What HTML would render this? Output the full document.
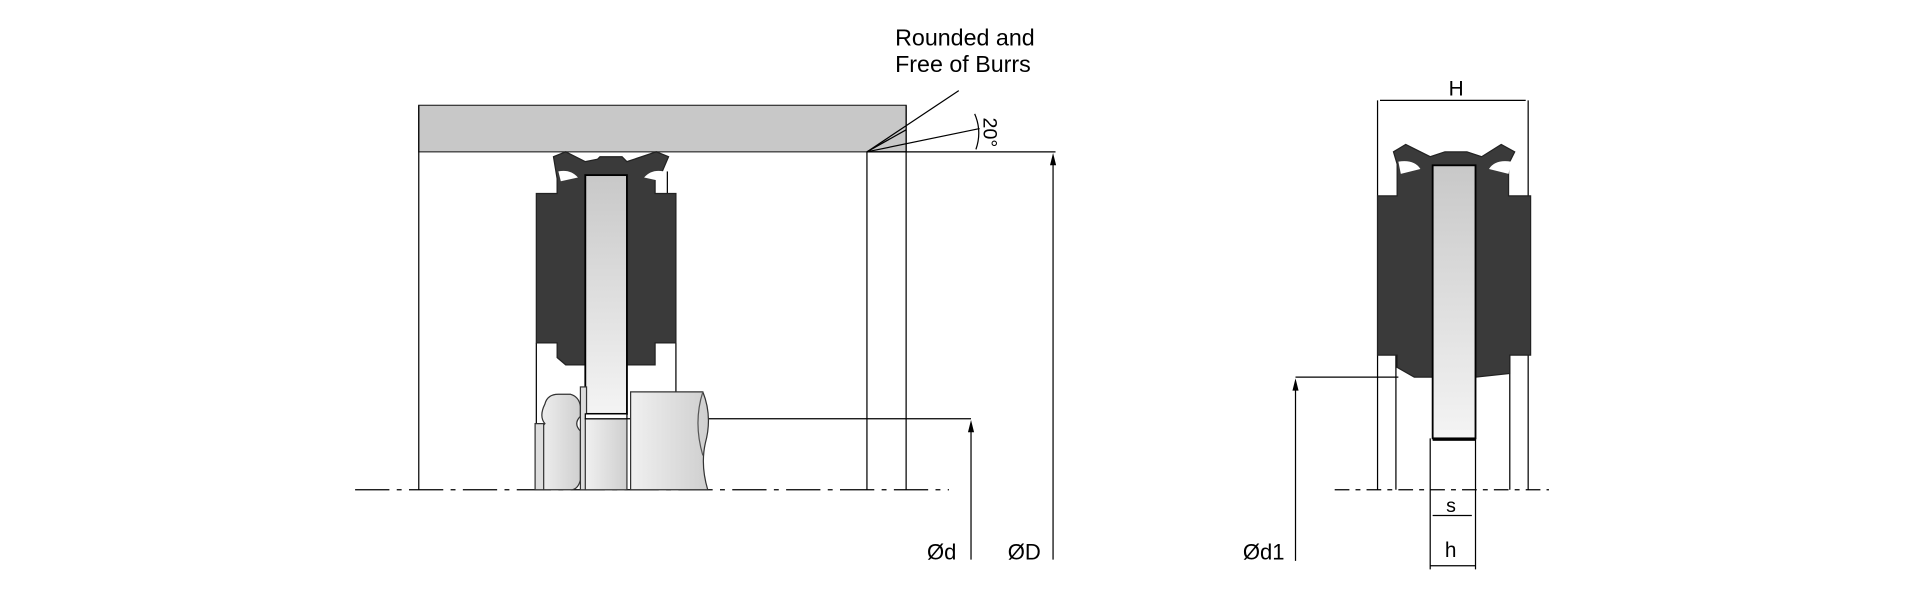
<!DOCTYPE html>
<html><head><meta charset="utf-8"><style>html,body{margin:0;padding:0;background:#fff;width:1920px;height:600px;overflow:hidden}svg{display:block}</style></head><body>
<svg width="1920" height="600" viewBox="0 0 1568 490" preserveAspectRatio="none" xmlns="http://www.w3.org/2000/svg" font-family="Liberation Sans, sans-serif">
<defs>
<linearGradient id="g1" x1="0" x2="0" y1="0" y2="1"><stop offset="0" stop-color="#c8c8c8"/><stop offset="1" stop-color="#f4f4f4"/></linearGradient>
<linearGradient id="g2" x1="0" x2="1" y1="0" y2="0"><stop offset="0" stop-color="#f0f0f0"/><stop offset="1" stop-color="#cfcfcf"/></linearGradient>
</defs>
<g stroke="#000" stroke-width="1" fill="none">
<!-- housing -->
<rect x="342" y="86" width="398" height="38" fill="#c8c8c8" stroke="#333"/>
<line x1="342" y1="86" x2="342" y2="400"/>
<line x1="740" y1="86" x2="740" y2="400"/>
<line x1="708" y1="124" x2="708" y2="400"/>
<line x1="740" y1="106" x2="708" y2="124"/>
<line x1="708" y1="124" x2="862" y2="124"/>
<!-- leaders -->
<line x1="708" y1="124" x2="783" y2="74"/>
<line x1="708" y1="124" x2="800" y2="105"/>
<path d="M796,93 A40,40 0 0 1 797,122"/>
<!-- centerline -->
<line x1="290" y1="400" x2="775" y2="400" stroke-dasharray="28,6,4,6"/>
<!-- D dim -->
<line x1="860" y1="128" x2="860" y2="457"/>
<!-- d dim -->
<line x1="512" y1="342" x2="793" y2="342"/>
<line x1="793" y1="346" x2="793" y2="457"/>
<!-- left seal lines -->
<line x1="438" y1="280" x2="438" y2="400"/>
<line x1="552" y1="280" x2="552" y2="320"/>
<line x1="455" y1="140" x2="455" y2="160"/>
<line x1="545" y1="140" x2="545" y2="160"/>
</g>
<path d="M860,125 L862.5,135 L857.5,135 Z M793,343 L795.5,353 L790.5,353 Z M1058,309 L1060.5,319 L1055.5,319 Z" fill="#000"/>
<!-- left seal -->
<path d="M452,128 L462,124 L478,132 L488,130 L490,128 L508,128 L512,132 L536,124 L546,128 L540,142 L535,146 L535,158 L552,158 L552,280 L535,280 L535,298 L478,298 L478,298 L462,298 L455,292 L455,280 L438,280 L438,158 L455,158 L455,146 Z" fill="#3a3a3a" stroke="#222"/>
<path d="M456,140 Q466,138 472,145 L458,148 Z M542,140 Q532,138 526,145 L540,148 Z" fill="#fff"/>
<rect x="478" y="143" width="34" height="195" fill="url(#g1)" stroke="#000" stroke-width="1.5"/>
<!-- lower parts -->
<path d="M445,330 Q447,322 456,322 L466,322 Q473,324 474,332 L474,340 Q468,346 474,352 L474,392 Q472,400 466,400 L444,400 Q440,390 440,370 Q440,350 445,346 Q440,340 445,330 Z" fill="url(#g2)" stroke="#333"/>
<path d="M437,346 L444,346 L444,400 L437,400 Z" fill="#ddd" stroke="#333"/>
<rect x="474" y="316" width="5" height="84" fill="#ddd" stroke="#333"/>
<rect x="478" y="342" width="34" height="58" fill="url(#g2)" stroke="#333"/>
<rect x="478" y="338" width="34" height="4" fill="#fff" stroke="#000"/>
<path d="M515,320 L574,320 Q582,340 576,362 Q572,380 578,400 L515,400 Z" fill="url(#g2)" stroke="#333"/>
<path d="M574,320 Q566,345 574,372" fill="none" stroke="#555"/>
<text x="731" y="37" font-size="19">Rounded and</text>
<text x="731" y="59" font-size="19">Free of Burrs</text>
<text x="0" y="0" font-size="16" transform="translate(803,96) rotate(90)">20°</text>
<text x="757" y="457" font-size="18">Ød</text>
<text x="823" y="457" font-size="18">ØD</text>

<!-- right drawing -->
<g stroke="#000" stroke-width="1" fill="none">
<line x1="1125" y1="82" x2="1125" y2="400"/>
<line x1="1248" y1="82" x2="1248" y2="400"/>
<line x1="1127" y1="82" x2="1246" y2="82"/>
<line x1="1140" y1="290" x2="1140" y2="400"/>
<line x1="1233" y1="290" x2="1233" y2="400"/>
<line x1="1090" y1="400" x2="1265" y2="400" stroke-dasharray="12,5,4,5"/>
<line x1="1058" y1="308" x2="1142" y2="308"/>
<line x1="1058" y1="312" x2="1058" y2="458"/>
<line x1="1168" y1="358" x2="1168" y2="465"/>
<line x1="1205" y1="358" x2="1205" y2="465"/>
<line x1="1170" y1="421" x2="1202" y2="421"/>
<line x1="1168" y1="462" x2="1205" y2="462"/>
</g>
<path d="M1138,124 L1148,118 L1168,128 L1180,124 L1198,124 L1210,128 L1226,118 L1237,124 L1232,134 L1232,160 L1250,160 L1250,290 L1233,290 L1233,305 L1205,308 L1170,308 L1155,308 L1141,300 L1141,290 L1125,290 L1125,160 L1141,160 L1141,134 Z" fill="#3a3a3a" stroke="#222"/>
<path d="M1142,132 Q1155,130 1160,138 L1144,142 Z M1234,132 Q1221,130 1216,138 L1232,142 Z" fill="#fff"/>
<rect x="1170" y="135" width="35" height="223" fill="url(#g1)" stroke="#000" stroke-width="1.5"/>
<rect x="1170" y="358" width="35" height="2" fill="#000"/>
<text x="1183" y="78" font-size="17">H</text>
<text x="1181" y="418" font-size="16">s</text>
<text x="1180" y="455" font-size="17">h</text>
<text x="1015" y="457" font-size="18">Ød1</text>
</svg>
</body></html>
